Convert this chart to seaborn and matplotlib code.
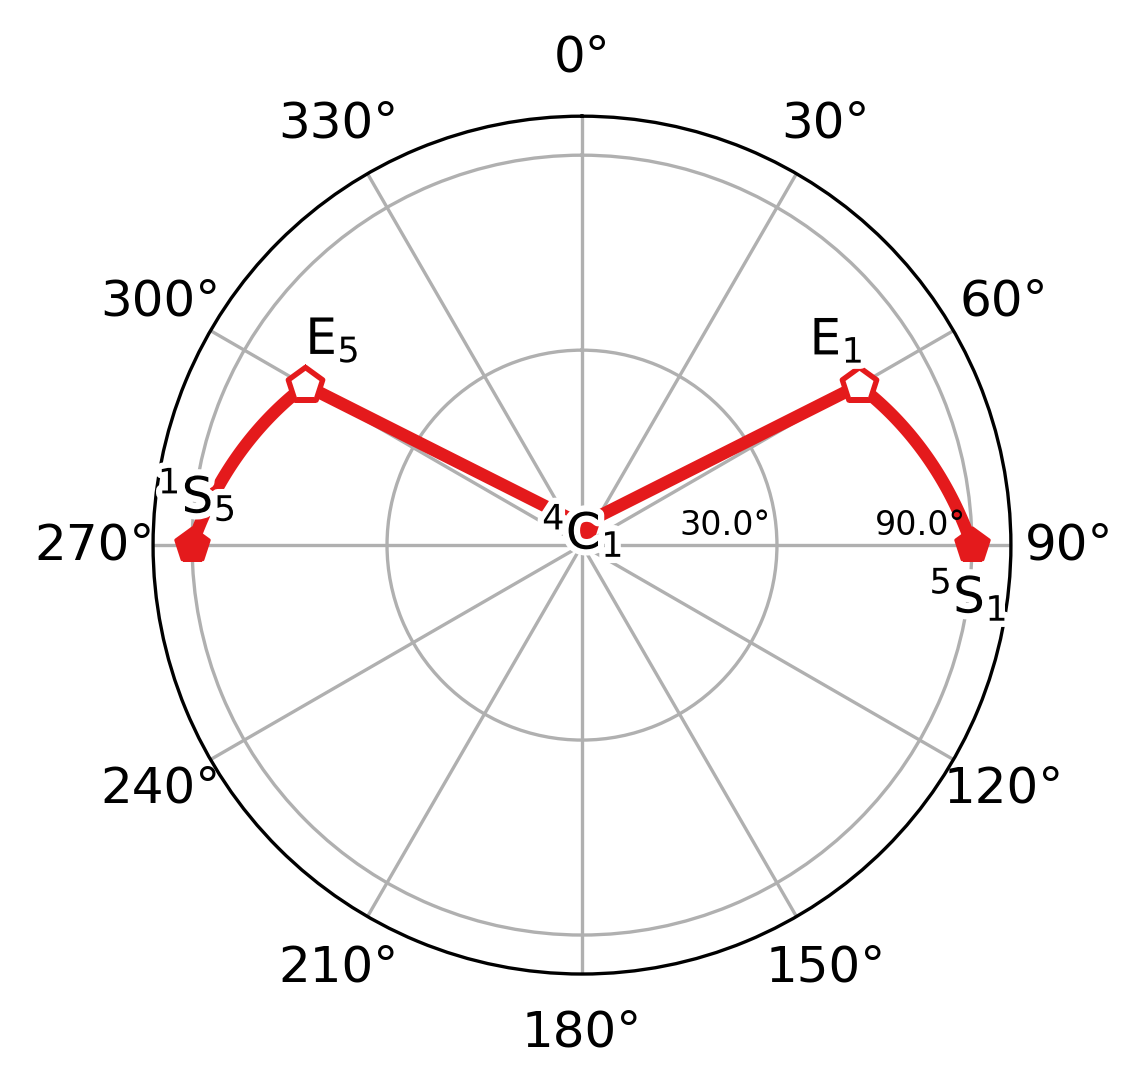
import matplotlib
matplotlib.use("Agg")
import matplotlib.pyplot as plt
import matplotlib.patheffects as pe
import seaborn as sns
import pandas as pd
import numpy as np

# puckering path 1S5 -> E5 -> 4C1 -> E1 -> 5S1 (phi, theta in degrees)
labels = ["$^{1}S_{5}$", "$E_{5}$", "$^{4}C_{1}$", "$E_{1}$", "$^{5}S_{1}$"]
kinds = ["S", "E", "C", "E", "S"]
phi_deg = [270, 300, 0, 60, 90]
theta_deg = [90, 55, 3, 55, 90]

# steps along the path: chair <-> envelope are near-straight, envelope <-> skew follow the sphere
chord_steps = [(1, 2), (2, 3)]
arc_steps = [(0, 1), (3, 4)]

rticks = [30, 90]
theta_ticks = list(range(0, 360, 30))

RED = "#e41a1c"


def fwd(t):
    t = np.asarray(t, dtype=float)
    return np.where(t <= 90, np.sin(np.radians(np.minimum(t, 90))), 1 + np.radians(t - 90))


def inv(y):
    y = np.asarray(y, dtype=float)
    return np.where(y <= 1, np.degrees(np.arcsin(np.clip(y, -1, 1))), 90 + np.degrees(y - 1))


plt.rcParams["mathtext.default"] = "regular"

fig = plt.figure(figsize=(1147 / 300, 1090 / 300), dpi=300)
ax = fig.add_axes([0.1334, 0.1064, 0.748, 0.787], projection="polar")
ax.set_theta_zero_location("N")
ax.set_theta_direction(-1)
ax.set_rscale("function", functions=(fwd, inv))

df = pd.DataFrame({"phi": np.radians(phi_deg), "theta": theta_deg, "kind": kinds, "label": labels})

for steps, curved in [(chord_steps, False), (arc_steps, True)]:
    for a, b in steps:
        seg = df.iloc[[a, b]]
        sns.lineplot(data=seg, x="phi", y="theta", sort=False, estimator=None, ax=ax,
                     color=RED, lw=3, zorder=2, solid_capstyle="round")
        if curved:
            ax.lines[-1].get_path()._interpolation_steps = 80

s_pts = df[df.kind != "E"]
e_pts = df[df.kind == "E"]
sns.scatterplot(data=s_pts, x="phi", y="theta", marker="p", s=70, color=RED,
                edgecolor=RED, linewidth=0.8, ax=ax, zorder=3)
sns.scatterplot(data=e_pts, x="phi", y="theta", marker="p", s=75, color="white",
                edgecolor=RED, linewidth=1.3, ax=ax, zorder=3)

offsets = {
    "$^{1}S_{5}$": ((1, 5), "center", "bottom"),
    "$E_{5}$": ((0, 5), "left", "bottom"),
    "$^{4}C_{1}$": ((0, -1.5), "center", "center"),
    "$E_{1}$": ((1, 5), "right", "bottom"),
    "$^{5}S_{1}$": ((-1, -5), "center", "top"),
}
stroke = [pe.withStroke(linewidth=3, foreground="white")]
for _, row in df.iterrows():
    off, ha, va = offsets[row["label"]]
    ax.annotate(row["label"], xy=(row["phi"], row["theta"]), xytext=off,
                textcoords="offset points", ha=ha, va=va, fontsize=12,
                path_effects=stroke, zorder=5)

ax.set_xticks(np.radians(theta_ticks))
ax.tick_params(axis="x", labelsize=12, pad=3.5)
ax.set_rlim(0, 90 + np.degrees(0.1))
ax.set_yticks(rticks)
ax.set_yticklabels([])
for t in rticks:
    ax.annotate(f"{t:.1f}°", xy=(np.radians(90), t), xytext=(-1.5, 0.8),
                textcoords="offset points", ha="right", va="bottom", fontsize=8)
ax.grid(True, color="#b0b0b0", lw=0.8)
ax.set_xlabel("")
ax.set_ylabel("")

fig.savefig("out.png", dpi=300)
